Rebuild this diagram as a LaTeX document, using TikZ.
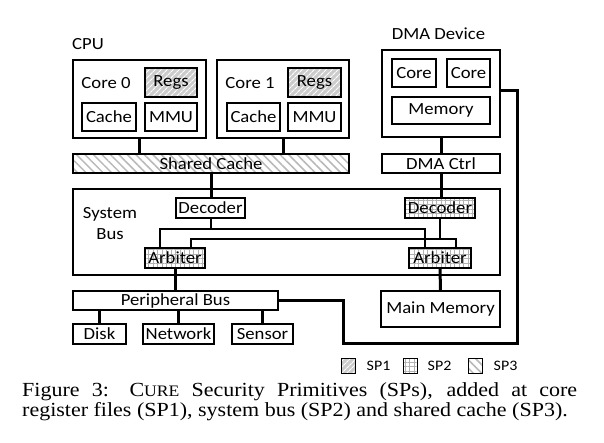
\documentclass[tikz,border=0pt]{standalone}
\usepackage{fontspec}
\setmainfont[FakeStretch=1.1]{Liberation Serif}
\newfontfamily\diagfont[FakeStretch=1.1]{Carlito}
\usepackage{tikz}
\usetikzlibrary{positioning,patterns.meta}

\newcommand{\hwfont}{\diagfont\fontsize{17}{21}\selectfont}
\newcommand{\keyfont}{\diagfont\fontsize{14.5}{16}\selectfont}
\newcommand{\capfont}{\fontsize{20}{20}\selectfont}

\tikzset{
  box/.style={draw=black, line width=1.2pt, inner sep=0pt, fill=white},
  wire/.style={draw=black, line width=3pt},
  link/.style={draw=black, line width=2pt},
  spone/.style={preaction={fill=gray!40}, pattern={Lines[angle=45, distance=4pt, line width=1.2pt]}, pattern color=white},
  sptwo/.style={preaction={fill=white}, pattern={Hatch[distance=4.5pt, line width=0.5pt]}, pattern color=gray!60},
  spthree/.style={preaction={fill=white}, pattern={Lines[angle=-45, distance=6pt, line width=1.5pt]}, pattern color=gray!55}
}

\begin{document}
\begin{tikzpicture}[x=1pt, y=-1pt, font=\hwfont]
    \useasboundingbox (0,0) rectangle (604,443);

    % cpu
    \node(cpu)     at (88,44)                                                 {CPU};
    \node(core0)   [box, minimum width=133pt, minimum height=78pt] at (139.5,99) {};
    \node(core0l)  at (106,83)                                                {Core 0};
    \node(regs0)   [box, spone, minimum width=52pt, minimum height=29pt] at (171,82.5) {Regs};
    \node(cache0)  [box, minimum width=54pt, minimum height=28pt] at (109,117)  {Cache};
    \node(mmu0)    [box, minimum width=52pt, minimum height=28pt] at (171,117)  {MMU};

    \node(core1)   [box, minimum width=132pt, minimum height=78pt] at (283,99)  {};
    \node(core1l)  at (250,83)                                                {Core 1};
    \node(regs1)   [box, spone, minimum width=53pt, minimum height=29pt] at (314.5,82.5) {Regs};
    \node(cache1)  [box, minimum width=53pt, minimum height=28pt] at (253.5,117) {Cache};
    \node(mmu1)    [box, minimum width=53pt, minimum height=28pt] at (314.5,117) {MMU};

    \node(shared)  [box, spthree, minimum width=276pt, minimum height=19pt] at (211,163.5) {Shared Cache};

    % dma device
    \node(dmal)    at (438.5,34)                                              {DMA Device};
    \node(dma)     [box, minimum width=118pt, minimum height=87pt] at (441,93.5) {};
    \node(dcore0)  [box, minimum width=44pt, minimum height=28pt] at (414,73)   {Core};
    \node(dcore1)  [box, minimum width=43pt, minimum height=28pt] at (468.5,73) {Core};
    \node(dmem)    [box, minimum width=98pt, minimum height=27pt] at (441,110.5) {Memory};
    \node(dmactrl) [box, minimum width=118pt, minimum height=19pt] at (441,163.5) {DMA Ctrl};

    % system bus
    \node(sysbus)  [box, minimum width=427pt, minimum height=86pt] at (286.5,232) {};
    \node(sysbusl) [align=center] at (110,224)                               {System\\Bus};
    \node(dec0)    [box, minimum width=69pt, minimum height=20pt] at (210.5,208) {Decoder};
    \node(dec1)    [box, sptwo, minimum width=70pt, minimum height=20pt] at (440,208) {Decoder};
    \node(arb0)    [box, sptwo, minimum width=60pt, minimum height=20pt] at (175,258) {Arbiter};
    \node(arb1)    [box, sptwo, minimum width=62pt, minimum height=20pt] at (440,258) {Arbiter};

    % peripherals and memory
    \node(perbus)  [box, minimum width=205pt, minimum height=19pt] at (175.5,300.5) {Peripheral Bus};
    \node(disk)    [box, minimum width=53pt, minimum height=20pt] at (99.5,334)  {Disk};
    \node(network) [box, minimum width=71pt, minimum height=20pt] at (178.5,334) {Network};
    \node(sensor)  [box, minimum width=61pt, minimum height=20pt] at (262.5,334) {Sensor};
    \node(mainmem) [box, minimum width=119pt, minimum height=36pt] at (440.5,309) {Main Memory};

    % legend
    \node(key1)  [box, spone, line width=1pt, minimum width=14pt, minimum height=15pt] at (348,365.5) {};
    \node(key1t) [right=11pt of key1, inner sep=0pt, font=\keyfont] {SP1};
    \node(key2)  [box, sptwo, line width=1pt, minimum width=14pt, minimum height=15pt] at (410,365.5) {};
    \node(key2t) [right=10pt of key2, inner sep=0pt, font=\keyfont] {SP2};
    \node(key3)  [box, spthree, line width=1pt, minimum width=14pt, minimum height=15pt] at (475,365.5) {};
    \node(key3t) [right=11pt of key3, inner sep=0pt, font=\keyfont] {SP3};

    % caption
    \node(caption) [anchor=north west, text width=555pt, align=justify, inner sep=0pt, font=\capfont] at (22,382)
        {\parfillskip=0pt Figure 3: C{\fontsize{16}{20}\selectfont URE} Security Primitives (SPs), added at core\linebreak
         register files (SP1), system bus (SP2) and shared cache (SP3).};

    % cpu wires
    \draw [wire] (core0.south) -- (core0.south |- shared.north);
    \draw [wire] (core1.south) -- (core1.south |- shared.north);
    \draw [wire] (shared.south) -- (shared.south |- dec0.north);

    % dma wires
    \draw [wire] (dma.south) -- (dmactrl.north);
    \draw [wire] (dmactrl.south) -- (dmactrl.south |- dec1.north);
    \coordinate (loop) at (517,343);
    \coordinate (bend) at (343,343);
    \draw [wire] ([yshift=2.5pt]dma.east) -| (loop) -- (bend) |- (perbus.east);

    % bus wires
    \draw [link] (dec0.south) -- ++(0,10) coordinate (d0);
    \draw [link] ([xshift=-15pt]arb0.north) |- (d0) -| ([xshift=-15pt]arb1.north);
    \draw [link] (dec1.south) -- ++(0,21) coordinate (d1);
    \draw [link] ([xshift=16pt]arb0.north) |- (d1) -| ([xshift=16pt]arb1.north);
    \draw [wire] (arb0.south) -- (arb0.south |- perbus.north);
    \draw [wire] (arb1.south) -- (mainmem.north);

    % peripheral wires
    \draw [wire] (disk.north |- perbus.south) -- (disk.north);
    \draw [wire] (network.north |- perbus.south) -- (network.north);
    \draw [wire] (sensor.north |- perbus.south) -- (sensor.north);

  \end{tikzpicture}
\end{document}
